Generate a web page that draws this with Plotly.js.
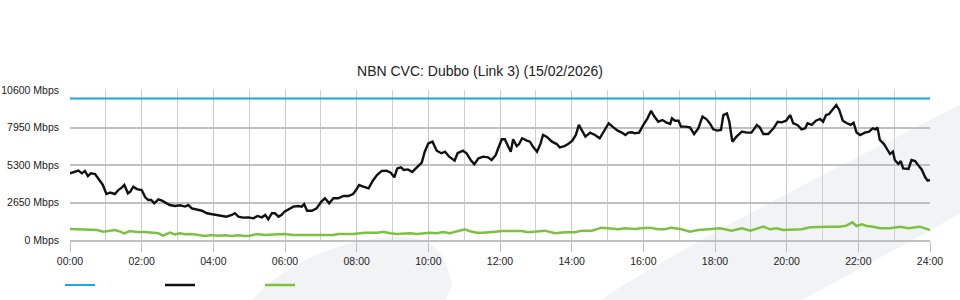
<!DOCTYPE html>
<html>
<head>
<meta charset="utf-8">
<script src="https://cdn.plot.ly/plotly-3.0.1.min.js"></script>
<style>
html,body{margin:0;padding:0;background:#fff;}
#chart{width:960px;height:300px;}
</style>
</head>
<body>
<div id="chart"></div>
<script>
// ---- data ----
const chartTitle = "NBN CVC: Dubbo (Link 3) (15/02/2026)";
const yTickValues = [0, 2650, 5300, 7950, 10600];
const yTickLabels = ["0 Mbps", "2650 Mbps", "5300 Mbps", "7950 Mbps", "10600 Mbps"];
const xTickLabels = ["00:00","02:00","04:00","06:00","08:00","10:00","12:00","14:00","16:00","18:00","20:00","22:00","24:00"];

const capacityTimes = ["00:00", "24:00"];
const capacityValues = [10000, 10000];

const inTimes = ["00:00","00:14","00:20","00:25","00:30","00:35","00:42","00:47","00:55","01:01","01:07","01:15","01:21","01:27","01:31","01:37","01:41","01:46","01:52","02:00","02:06","02:11","02:16","02:21","02:28","02:34","02:39","02:47","02:56","03:04","03:13","03:18","03:24","03:32","03:41","03:49","03:57","04:06","04:14","04:22","04:31","04:36","04:42","04:50","04:59","05:07","05:14","05:21","05:27","05:32","05:38","05:43","05:49","05:54","05:59","06:06","06:14","06:22","06:28","06:32","06:37","06:45","06:53","07:01","07:07","07:14","07:21","07:29","07:38","07:46","07:54","07:59","08:04","08:11","08:20","08:27","08:34","08:42","08:50","08:57","09:03","09:08","09:14","09:19","09:26","09:33","09:41","09:49","09:54","10:00","10:07","10:14","10:22","10:28","10:35","10:44","10:49","10:58","11:04","11:11","11:17","11:24","11:32","11:40","11:46","11:53","11:57","12:03","12:08","12:14","12:18","12:22","12:28","12:32","12:37","12:45","12:50","12:56","13:02","13:08","13:12","13:18","13:27","13:35","13:40","13:48","13:54","14:01","14:07","14:12","14:18","14:23","14:31","14:39","14:47","14:55","15:02","15:10","15:17","15:24","15:30","15:35","15:41","15:46","15:53","16:00","16:07","16:13","16:18","16:25","16:32","16:39","16:45","16:48","16:53","16:59","17:03","17:10","17:18","17:25","17:32","17:39","17:46","17:52","17:57","18:04","18:10","18:14","18:20","18:24","18:29","18:36","18:45","18:53","19:01","19:05","19:10","19:15","19:21","19:29","19:38","19:45","19:52","19:59","20:06","20:11","20:18","20:25","20:31","20:35","20:42","20:49","20:56","21:01","21:06","21:11","21:17","21:23","21:28","21:34","21:41","21:47","21:52","21:57","22:03","22:11","22:18","22:24","22:29","22:32","22:36","22:43","22:49","22:53","22:58","23:01","23:07","23:11","23:15","23:24","23:29","23:35","23:40","23:46","23:52","23:56","24:00"];
const inValues = [4710,4900,4710,4880,4520,4710,4660,4360,3890,3250,3350,3250,3530,3720,3890,3300,3420,3770,3600,3530,3015,2830,2830,2590,2870,2780,2640,2470,2400,2450,2360,2470,2240,2170,2070,1890,1840,1770,1700,1650,1770,1890,1650,1580,1600,1530,1700,1600,1770,1460,1890,1890,1650,1770,2000,2170,2360,2400,2360,2540,2070,2070,2240,2710,2950,2590,2950,2950,3110,3110,3250,3530,3890,3770,3650,4190,4590,4880,4900,4760,4430,5060,5140,4950,4990,4810,5140,5470,6240,6830,6950,6310,6130,6240,5890,5610,6130,6310,6130,5650,5350,5770,5890,5840,5650,6010,6480,7115,7115,6600,6240,7115,6640,6780,7190,7020,6950,6550,6240,6830,7420,7300,6950,6780,6550,6640,6780,7020,7420,8130,7660,7300,7590,7420,7190,7770,8250,7960,7730,7590,7420,7590,7610,7540,7590,8130,8600,9135,8760,8360,8480,8290,8200,8600,8430,8430,8010,8010,7960,7490,7890,8720,8530,8200,7820,7730,7770,8830,8950,8360,6950,7300,7660,7590,7590,7820,8130,7960,7490,7490,7890,8360,8315,8430,8830,8250,8130,7820,7890,8250,8130,8430,8550,8360,8830,8900,9230,9540,9190,8430,8250,8130,8290,7590,7420,7590,7660,7890,7820,7960,7070,6780,6360,6080,6240,5650,5370,5580,5060,5020,5650,5580,5300,4990,4430,4190,4240];

const outTimes = ["00:00","00:14","00:31","00:45","00:56","01:04","01:15","01:24","01:31","01:40","01:52","02:06","02:17","02:28","02:36","02:47","02:56","03:04","03:13","03:24","03:35","03:46","03:57","04:08","04:20","04:31","04:42","04:53","05:01","05:13","05:27","05:38","05:49","05:59","06:14","06:36","06:59","07:21","07:29","07:54","08:14","08:34","08:45","08:56","09:07","09:18","09:29","09:41","09:52","10:03","10:14","10:25","10:36","10:47","11:01","11:10","11:21","11:32","11:40","11:52","12:03","12:20","12:36","12:47","12:59","13:15","13:32","13:49","14:06","14:17","14:34","14:50","15:01","15:18","15:29","15:46","15:57","16:11","16:25","16:36","16:47","17:04","17:18","17:32","17:49","18:08","18:28","18:45","18:59","19:10","19:21","19:32","19:43","19:54","20:11","20:25","20:39","20:56","21:12","21:29","21:40","21:50","21:57","22:06","22:14","22:25","22:36","22:53","23:10","23:24","23:43","24:00"];
const outValues = [777,754,707,707,589,660,707,589,471,636,565,565,518,471,306,518,400,471,400,424,353,283,353,306,330,283,330,283,306,424,353,353,400,424,353,353,353,353,424,424,518,518,589,471,424,471,471,424,471,518,471,565,471,589,754,613,518,518,565,589,636,636,636,542,589,660,471,542,542,660,660,872,825,754,825,777,825,872,754,754,872,754,589,707,754,825,660,825,660,825,942,754,825,707,754,754,895,942,942,942,1013,1249,990,1107,990,942,825,825,942,825,942,707];

// ---- helpers ----
function toHours(t){ const p = t.split(":"); return (+p[0]) + (+p[1]) / 60; }

// plot area in pixels (for decorative background watermark only)
const PL = 70, PR = 930, PT = 90, PB = 240;
function px(x){ return ((x - PL) / (PR - PL)).toFixed(4); }
function py(y){ return ((PB - y) / (PB - PT)).toFixed(4); }
function P(x, y){ return px(x) + "," + py(y); }

const wmColor = "#f2f3f5";
const shapes = [
  { type: "path", xref: "paper", yref: "paper", layer: "below", line: { width: 0 }, fillcolor: wmColor,
    path: "M" + P(600,300) + " Q" + P(700,235) + " " + P(960,105) + " L" + P(960,214) + " L" + P(802,300) + " Z" },
  { type: "path", xref: "paper", yref: "paper", layer: "below", line: { width: 0 }, fillcolor: wmColor,
    path: "M" + P(252,300) + " C" + P(290,258) + " " + P(350,237) + " " + P(400,237) + " C" + P(432,237) + " " + P(445,250) + " " + P(452,285) + " L" + P(446,300) + " Z" }
];

const fontFam = "'Liberation Sans', Arial, sans-serif";

const traces = [
  { x: capacityTimes.map(toHours), y: capacityValues, type: "scatter", mode: "lines", name: "",
    line: { color: "#1ba6df", width: 2 }, hoverinfo: "skip" },
  { x: inTimes.map(toHours), y: inValues, type: "scatter", mode: "lines", name: "",
    line: { color: "#111111", width: 2.4 } },
  { x: outTimes.map(toHours), y: outValues, type: "scatter", mode: "lines", name: "",
    line: { color: "#7dc142", width: 2.5 } }
];

const xTickVals = xTickLabels.map(toHours);

const layout = {
  width: 960, height: 300,
  margin: { l: 70, r: 30, t: 90, b: 60 },
  paper_bgcolor: "#ffffff",
  plot_bgcolor: "rgba(0,0,0,0)",
  font: { family: fontFam, size: 10.5, color: "#222" },
  title: { text: chartTitle, x: 0.5, xanchor: "center", y: 1 - 71/300, yref: "container", yanchor: "middle",
           font: { family: fontFam, size: 14, color: "#222" } },
  xaxis: {
    range: [0, 24], tickmode: "array", tickvals: xTickVals, ticktext: xTickLabels,
    showgrid: true, gridcolor: "#c8c8c8", gridwidth: 1,
    ticks: "outside", ticklen: 10, tickcolor: "#c0c0c0", tickwidth: 1,
    minor: { dtick: 1, showgrid: true, gridcolor: "#d0d0d0", gridwidth: 1, ticks: "" },
    zeroline: false, showline: true, linecolor: "#c0c0c0", linewidth: 2,
    mirror: false, fixedrange: true,
    tickfont: { family: fontFam, size: 10.5, color: "#222" }
  },
  yaxis: {
    range: [0, 10600], tickmode: "array", tickvals: yTickValues, ticktext: yTickLabels,
    showgrid: true, gridcolor: "#c0c0c0", gridwidth: 2,
    zeroline: false, showline: false, ticks: "", ticklabelstandoff: 10,
    tickfont: { family: fontFam, size: 10.5, color: "#222" }, fixedrange: true
  },
  showlegend: true,
  legend: {
    orientation: "h", x: 60/960, xref: "container", xanchor: "left",
    y: 1 - 285/300, yref: "container", yanchor: "middle",
    entrywidth: 55, entrywidthmode: "pixels", bgcolor: "rgba(0,0,0,0)",
    font: { family: fontFam, size: 11 }, itemclick: false, itemdoubleclick: false
  },
  shapes: shapes
};

Plotly.newPlot("chart", traces, layout, { displayModeBar: false, staticPlot: true });
</script>
</body>
</html>
